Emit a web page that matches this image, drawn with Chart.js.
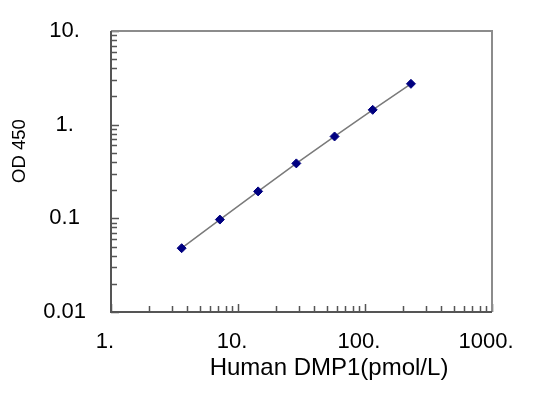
<!DOCTYPE html>
<html><head><meta charset="utf-8">
<script src="https://cdn.jsdelivr.net/npm/chart.js@4/dist/chart.umd.min.js"></script>
<style>html,body{margin:0;padding:0;background:#fff;}#wrap{width:545px;height:397px;}</style>
</head><body><div id="wrap"><canvas id="c" width="545" height="397"></canvas></div>
<script>
const concentrations = [3.6, 7.2, 14.4, 28.8, 57.6, 115, 230];
const od450 = [0.048, 0.097, 0.194, 0.386, 0.748, 1.44, 2.73];
const xTickValues = [1, 10, 100, 1000];
const xTickLabels = ['1.', '10.', '100.', '1000.'];
const yTickValues = [0.01, 0.1, 1, 10];
const yTickLabels = ['0.01', '0.1', '1.', '10.'];
const xTitle = 'Human DMP1(pmol/L)';
const yTitle = 'OD 450';

const FONT = "'Liberation Sans', Arial, sans-serif";

function minorValues(min, max) {
  const out = [];
  for (let d = min; d < max * 1.0001; d *= 10) {
    for (let k = 1; k <= 9; k++) {
      const v = d * k;
      if (v >= min * 0.9999 && v <= max * 1.0001) out.push({ v, major: k === 1 });
    }
  }
  return out;
}

const frameTicks = {
  id: 'frameTicks',
  beforeDatasetsDraw(chart) {
    const { ctx, chartArea: a, scales } = chart;
    ctx.save();
    ctx.strokeStyle = '#555';
    ctx.lineWidth = 1.5;
    ctx.beginPath();
    minorValues(scales.y.min, scales.y.max).forEach(t => {
      const y = Math.round(scales.y.getPixelForValue(t.v)) + 0.5;
      const len = t.major ? 8 : 6;
      ctx.moveTo(a.left, y); ctx.lineTo(a.left + len, y);
    });
    minorValues(scales.x.min, scales.x.max).forEach(t => {
      const x = Math.round(scales.x.getPixelForValue(t.v)) + 0.5;
      const len = t.major ? 8 : 6;
      ctx.moveTo(x, a.bottom); ctx.lineTo(x, a.bottom - len);
    });
    ctx.stroke();
    ctx.restore();
  },
  afterDraw(chart) {
    const { ctx, chartArea: a } = chart;
    ctx.save();
    ctx.lineWidth = 2;
    ctx.strokeStyle = '#8c8c8c';
    ctx.beginPath();
    ctx.moveTo(a.left, a.top); ctx.lineTo(a.right, a.top); ctx.lineTo(a.right, a.bottom);
    ctx.stroke();
    ctx.strokeStyle = '#555';
    ctx.beginPath();
    ctx.moveTo(a.left, a.top); ctx.lineTo(a.left, a.bottom); ctx.lineTo(a.right, a.bottom);
    ctx.stroke();
    // axis titles
    ctx.fillStyle = '#000';
    ctx.font = '24px ' + FONT;
    ctx.textAlign = 'center';
    ctx.textBaseline = 'alphabetic';
    ctx.fillText(xTitle, a.left + 218, a.bottom + 63);
    ctx.font = '18.5px ' + FONT;
    ctx.translate(25, a.top + 120);
    ctx.rotate(-Math.PI / 2);
    ctx.fillText(yTitle, 0, 0);
    ctx.restore();
  }
};

new Chart(document.getElementById('c'), {
  type: 'scatter',
  data: {
    datasets: [{
      data: concentrations.map((x, i) => ({ x, y: od450[i] })),
      showLine: true,
      borderColor: '#7a7a7a',
      borderWidth: 1.5,
      pointStyle: 'rectRot',
      pointRadius: 4.5,
      pointBackgroundColor: '#000080',
      pointBorderColor: '#000080',
      pointBorderWidth: 1,
      tension: 0
    }]
  },
  options: {
    responsive: false,
    animation: false,
    devicePixelRatio: 1,
    layout: { padding: { left: 0, right: 53, top: 31, bottom: 0 } },
    plugins: { legend: { display: false }, tooltip: { enabled: false } },
    scales: {
      x: {
        type: 'logarithmic', min: 1, max: 1000,
        grid: { display: false, drawTicks: false },
        border: { display: false },
        afterBuildTicks: s => { s.ticks = xTickValues.map(v => ({ value: v })); },
        afterFit: s => { s.height = 85; s.paddingLeft = 0; s.paddingRight = 0; },
        ticks: {
          autoSkip: false, maxRotation: 0, padding: 17, labelOffset: -6,
          color: '#000', font: { family: FONT, size: 22 },
          callback: v => { const i = xTickValues.indexOf(v); return i >= 0 ? xTickLabels[i] : ''; }
        }
      },
      y: {
        type: 'logarithmic', min: 0.01, max: 10,
        grid: { display: false, drawTicks: false },
        border: { display: false },
        afterBuildTicks: s => { s.ticks = yTickValues.map(v => ({ value: v })); },
        afterFit: s => { s.width = 111; s.paddingTop = 0; s.paddingBottom = 0; },
        ticks: {
          autoSkip: false, padding: 25, crossAlign: 'center',
          color: '#000', font: { family: FONT, size: 22 },
          callback: v => { const i = yTickValues.indexOf(v); return i >= 0 ? yTickLabels[i] : ''; }
        }
      }
    }
  },
  plugins: [frameTicks]
});
</script></body></html>
